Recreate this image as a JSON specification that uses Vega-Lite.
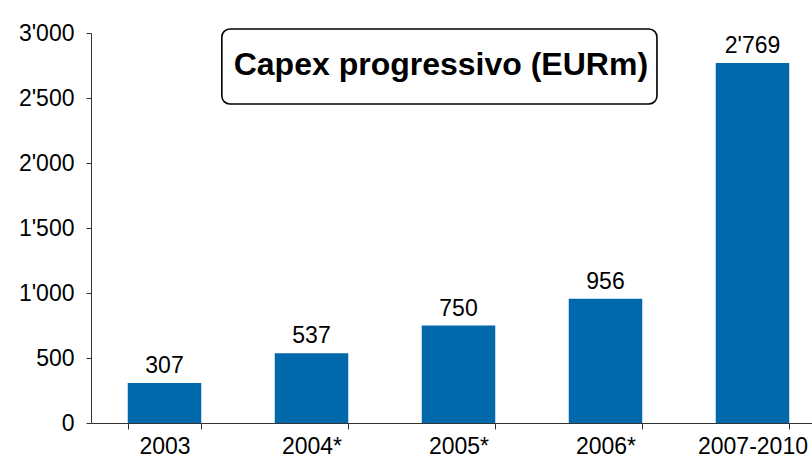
{
  "$schema": "https://vega.github.io/schema/vega-lite/v6.json",
  "autosize": "none",
  "padding": {"left": 91, "top": 33, "right": 0, "bottom": 36},
  "width": 735,
  "height": 390,
  "background": "white",
  "config": {
    "locale": {"number": {"decimal": ".", "thousands": "'", "grouping": [3], "currency": ["", ""]}},
    "view": {"stroke": null},
    "font": "Liberation Sans"
  },
  "layer": [
    {
      "data": {
        "values": [
          {"period": "2003", "capex": 307},
          {"period": "2004*", "capex": 537},
          {"period": "2005*", "capex": 750},
          {"period": "2006*", "capex": 956},
          {"period": "2007-2010", "capex": 2769}
        ]
      },
      "layer": [
        {
          "mark": {"type": "bar", "color": "#0068AB"},
          "encoding": {
            "x": {
              "field": "period", "type": "nominal", "sort": null,
              "scale": {"paddingInner": 0.5, "paddingOuter": 0.25},
              "axis": {
                "title": null, "labelAngle": 0, "labelFontSize": 23, "labelColor": "#000",
                "labelFont": "Liberation Sans", "domainColor": "#333", "tickColor": "#333",
                "tickSize": 6, "tickBand": "extent", "labelPadding": 6
              }
            },
            "y": {
              "field": "capex", "type": "quantitative",
              "scale": {"domain": [0, 3000]},
              "axis": {
                "title": null, "values": [0, 500, 1000, 1500, 2000, 2500, 3000],
                "labelExpr": "format(datum.value, ',')",
                "grid": false, "labelFontSize": 23, "labelColor": "#000", "labelFont": "Liberation Sans",
                "domainColor": "#333", "tickColor": "#333", "tickSize": 5, "labelPadding": 12
              }
            }
          }
        },
        {
          "mark": {"type": "text", "baseline": "alphabetic", "dy": -10, "fontSize": 23, "color": "#000"},
          "encoding": {
            "x": {"field": "period", "type": "nominal", "sort": null},
            "y": {"field": "capex", "type": "quantitative"},
            "text": {"field": "capex", "type": "quantitative", "format": ","}
          }
        }
      ]
    },
    {
      "data": {"values": [{"label": "Capex progressivo (EURm)"}]},
      "layer": [
        {
          "mark": {"type": "rect", "fill": "white", "stroke": "#000", "strokeWidth": 1.6, "cornerRadius": 8},
          "encoding": {
            "x": {"datum": 0.178, "type": "quantitative", "scale": {"domain": [0, 1]}, "axis": null},
            "x2": {"datum": 0.770},
            "y": {"datum": 2454, "type": "quantitative", "scale": {"domain": [0, 3000]}, "axis": null},
            "y2": {"datum": 3031}
          }
        },
        {
          "mark": {"type": "text", "fontSize": 32, "fontWeight": "bold", "color": "#000", "baseline": "alphabetic"},
          "encoding": {
            "x": {"datum": 0.476, "type": "quantitative", "scale": {"domain": [0, 1]}, "axis": null},
            "y": {"datum": 2677, "type": "quantitative", "scale": {"domain": [0, 3000]}, "axis": null},
            "text": {"field": "label"}
          }
        }
      ]
    }
  ],
  "resolve": {"scale": {"x": "independent", "y": "independent"}, "axis": {"x": "independent", "y": "independent"}}
}
